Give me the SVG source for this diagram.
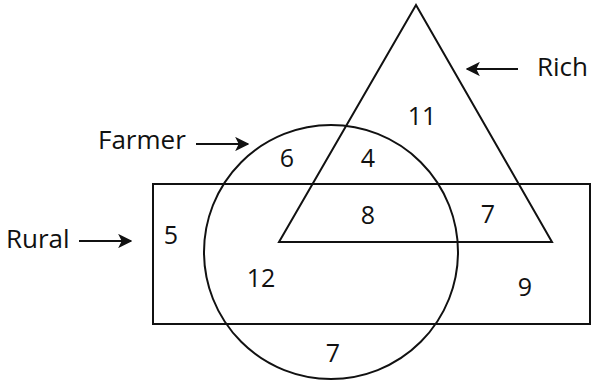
<svg xmlns="http://www.w3.org/2000/svg" width="592" height="380" viewBox="0 0 592 380">
<style>
.s{fill:none;stroke:#111;stroke-width:2}
.a{fill:none;stroke:#111;stroke-width:2.2}
.n{font-family:"Open Sans","Noto Sans",sans-serif;font-size:25px;font-weight:500;fill:#111;text-anchor:middle}
.l{font-family:"Open Sans","Noto Sans",sans-serif;font-size:26px;font-weight:500;fill:#111}
</style>
<defs>
<marker id="ah" viewBox="0 0 10 10" refX="9" refY="5" markerWidth="6.5" markerHeight="6.5" markerUnits="strokeWidth" orient="auto">
<path d="M0,0 L10,5 L0,10 L2.5,5 Z" fill="#111"/>
</marker>
</defs>
<rect fill="#fff" width="592" height="380"/>
<g id="rural"><rect class="s" x="153" y="184" width="437" height="140"/></g>
<g id="farmer"><circle class="s" cx="331" cy="252" r="127"/></g>
<g id="rich"><polygon class="s" points="416,5 279,242 552,242"/></g>
<g id="connectors">
<line class="a" x1="518" y1="69" x2="467" y2="69" marker-end="url(#ah)"/>
<line class="a" x1="196" y1="144" x2="248" y2="144" marker-end="url(#ah)"/>
<line class="a" x1="79" y1="241" x2="131" y2="241" marker-end="url(#ah)"/>
</g>
<g id="labels">
<text class="l" x="537" y="76">Rich</text>
<text class="l" x="98" y="149">Farmer</text>
<text class="l" x="6" y="248">Rural</text>
</g>
<g id="numbers">
<text class="n" x="422" y="125">11</text>
<text class="n" x="287" y="167">6</text>
<text class="n" x="368" y="167">4</text>
<text class="n" x="368" y="224">8</text>
<text class="n" x="488" y="223">7</text>
<text class="n" x="171" y="244">5</text>
<text class="n" x="261" y="287">12</text>
<text class="n" x="525" y="296">9</text>
<text class="n" x="333" y="362">7</text>
</g>
</svg>
